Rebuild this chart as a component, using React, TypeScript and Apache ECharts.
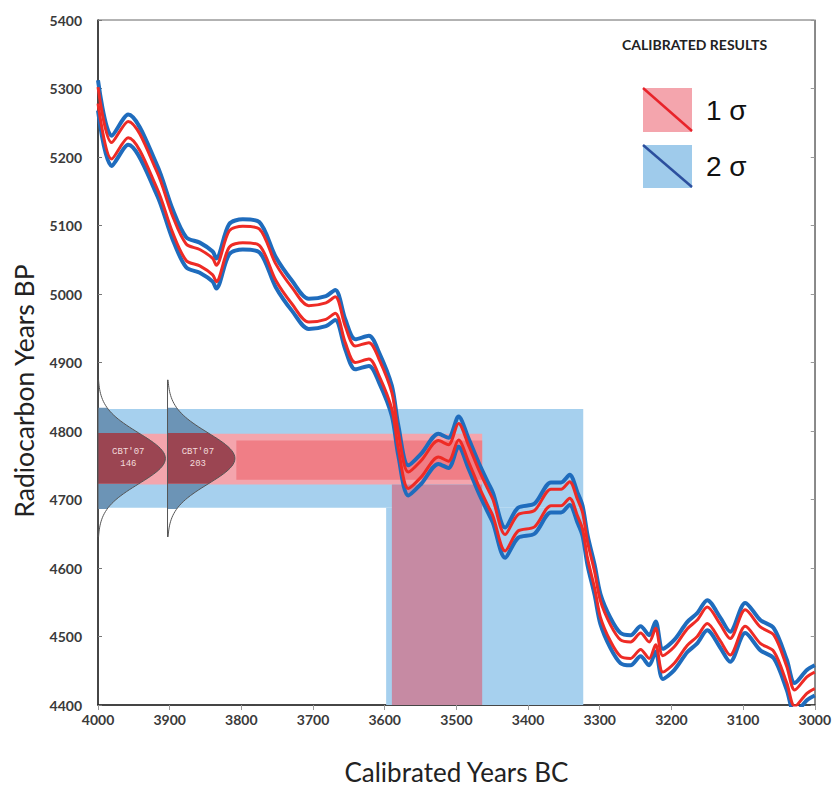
import React, { useEffect, useRef } from "react";
import * as echarts from "echarts";

// Calibration curve (centre, radiocarbon years BP) against calibrated years BC
const curveYears = [
  4000, 3981, 3958, 3918, 3896, 3877, 3858, 3840, 3835, 3817, 3798, 3775,
  3752, 3729, 3706, 3682, 3669, 3655, 3641, 3622, 3608, 3590, 3581, 3567,
  3549, 3525, 3511, 3497, 3483, 3469, 3456, 3449, 3432, 3414, 3391, 3368,
  3354, 3342, 3331, 3324, 3317, 3307, 3299, 3285, 3271, 3257, 3243, 3231,
  3222, 3212, 3196, 3178, 3164, 3150, 3132, 3118, 3097, 3076, 3057, 3039,
  3028, 3011, 3000,
];
const curveBP = [
  5290, 5209, 5240, 5167, 5102, 5061, 5053, 5040, 5030, 5080, 5087, 5083,
  5032, 4997, 4971, 4975, 4984, 4941, 4912, 4917, 4893, 4844, 4786, 4728,
  4745, 4774, 4768, 4799, 4767, 4732, 4703, 4688, 4637, 4666, 4672, 4703,
  4703, 4714, 4688, 4669, 4626, 4582, 4540, 4505, 4483, 4480, 4493, 4480,
  4500, 4460, 4473, 4499, 4512, 4531, 4506, 4485, 4527, 4502, 4490, 4444,
  4410, 4429, 4436,
];
// curve uncertainty envelopes (years)
const curveErrInner = 12;
const curveErrOuter = 22;

// calibrated ranges: [fromBC, toBC, lowBP, highBP]
const twoSigmaRanges = [
  [4000, 3323, 4688, 4832],
  [3598, 3323, 4400, 4688],
];
const oneSigmaBand = [[4000, 3464, 4722, 4796]];
const overlapBand = [[3807, 3464, 4729, 4786]];
const oneSigmaColumn = [[3590, 3464, 4400, 4722]];

// measured samples (radiocarbon ages)
const sampleNames = ["CBT'07", "CBT'07"];
const sampleIds = ["146", "203"];
const sampleBaseBC = [4000, 3903];
const sampleMeanBP = [4760, 4760];
const sampleSigma = [37, 37];
const samplePeak = [94, 94];

const xTickInterval = 100;
const yTickInterval = 100;

function rectSeries(data: number[][], fill: string, z: number) {
  return {
    type: "custom",
    z,
    silent: true,
    data,
    renderItem: (_p: any, api: any) => {
      const a = api.coord([api.value(0), api.value(3)]);
      const b = api.coord([api.value(1), api.value(2)]);
      return {
        type: "rect",
        shape: {
          x: Math.min(a[0], b[0]),
          y: Math.min(a[1], b[1]),
          width: Math.abs(b[0] - a[0]),
          height: Math.abs(b[1] - a[1]),
        },
        style: { fill },
      };
    },
  };
}

function lineSeries(offset: number, color: string, width: number, z: number) {
  return {
    type: "line",
    z,
    silent: true,
    showSymbol: false,
    symbol: "none",
    smooth: 0.3,
    clip: true,
    data: curveYears.map((y, i) => [y, curveBP[i] + offset]),
    lineStyle: { color, width },
  };
}

const plain = (v: number) => String(v);

export default function App() {
  const ref = useRef<HTMLDivElement>(null);
  useEffect(() => {
    if (!ref.current) return;
    const chart = echarts.init(ref.current, null, { renderer: "svg" });

    const sampleData = sampleBaseBC.map((_, i) => [i]);

    const option: any = {
      animation: false,
      backgroundColor: "#ffffff",
      grid: {
        left: 98,
        right: 16,
        top: 20,
        bottom: 101,
        show: true,
        borderColor: "#666",
        borderWidth: 1,
      },
      xAxis: {
        type: "value",
        min: 3000,
        max: 4000,
        interval: xTickInterval,
        inverse: true,
        name: "Calibrated Years BC",
        nameLocation: "middle",
        nameGap: 54,
        nameTextStyle: { fontFamily: "Lato", fontSize: 26, color: "#222" },
        axisLine: { lineStyle: { color: "#222", width: 1.5 } },
        axisTick: { show: true, length: 5, lineStyle: { color: "#999" } },
        axisLabel: {
          fontFamily: "Lato",
          fontWeight: "bold",
          fontSize: 14,
          color: "#3a3a3a",
          margin: 7,
          formatter: plain,
        },
        splitLine: { show: false },
      },
      yAxis: [
        {
          type: "value",
          min: 4400,
          max: 5400,
          interval: yTickInterval,
          axisLine: { show: true, lineStyle: { color: "#222", width: 1.5 } },
          axisTick: { show: true, inside: true, length: 4, lineStyle: { color: "#777" } },
          axisLabel: {
            fontFamily: "Lato",
            fontWeight: "bold",
            fontSize: 14,
            color: "#3a3a3a",
            margin: 16,
            formatter: plain,
          },
          splitLine: { show: false },
        },
        {
          type: "value",
          position: "right",
          min: 4400,
          max: 5400,
          interval: yTickInterval,
          axisLine: { show: true, lineStyle: { color: "#888", width: 1 } },
          axisTick: { show: true, inside: true, length: 4, lineStyle: { color: "#999" } },
          axisLabel: { show: false },
          splitLine: { show: false },
        },
      ],
      series: [
        rectSeries(twoSigmaRanges, "#a6d0ee", 1),
        rectSeries(oneSigmaBand, "#f4a5ad", 2),
        rectSeries(overlapBand, "#f07e86", 3),
        rectSeries(oneSigmaColumn, "#c68aa3", 3),
        {
          type: "custom",
          z: 4,
          silent: true,
          data: sampleData,
          renderItem: (params: any, api: any) => {
            const i = params.dataIndex;
            const base = sampleBaseBC[i];
            const mu = sampleMeanBP[i];
            const s = sampleSigma[i];
            const pk = samplePeak[i];
            const gx = (v: number) => base - pk * Math.exp(-0.5 * ((v - mu) / s) ** 2);
            const seg = (a: number, b: number) => {
              const pts: number[][] = [];
              const n = 30;
              for (let k = 0; k <= n; k++) {
                const v = a + ((b - a) * k) / n;
                pts.push(api.coord([gx(v), v]));
              }
              pts.push(api.coord([base, b]));
              pts.push(api.coord([base, a]));
              return pts;
            };
            const outline: number[][] = [];
            const n = 80;
            for (let k = 0; k <= n; k++) {
              const v = mu - 3.1 * s + (6.2 * s * k) / n;
              outline.push(api.coord([gx(v), v]));
            }
            const top = api.coord([base, mu + 3.1 * s]);
            const bot = api.coord([base, mu - 3.1 * s]);
            const c = api.coord([base - pk * 0.45, mu]);
            return {
              type: "group",
              children: [
                { type: "polygon", shape: { points: seg(mu - 2 * s, mu - s) }, style: { fill: "#6c94b6" } },
                { type: "polygon", shape: { points: seg(mu + s, mu + 2 * s) }, style: { fill: "#6c94b6" } },
                { type: "polygon", shape: { points: seg(mu - s, mu + s) }, style: { fill: "#9b4552" } },
                { type: "polyline", shape: { points: outline }, style: { stroke: "#555", lineWidth: 1, fill: null } },
                { type: "line", shape: { x1: top[0], y1: top[1], x2: bot[0], y2: bot[1] }, style: { stroke: "#555", lineWidth: 1 } },
                {
                  type: "text",
                  x: c[0],
                  y: c[1],
                  style: {
                    text: sampleNames[i] + "\n" + sampleIds[i],
                    fill: "#f3dcdc",
                    font: "9px 'Liberation Mono'",
                    align: "center",
                    verticalAlign: "middle",
                    lineHeight: 12,
                  },
                },
              ],
            };
          },
        },
        lineSeries(curveErrOuter, "#1f6cbd", 4, 5),
        lineSeries(-curveErrOuter, "#1f6cbd", 4, 5),
        lineSeries(curveErrInner, "#ee2b25", 3, 6),
        lineSeries(-curveErrInner, "#ee2b25", 3, 6),
      ],
      graphic: [
        {
          type: "text",
          x: 24,
          y: 391,
          rotation: Math.PI / 2,
          style: {
            text: "Radiocarbon Years BP",
            font: "26.5px Lato",
            fill: "#222",
            align: "center",
            verticalAlign: "middle",
          },
        },
        {
          type: "text",
          left: 622,
          top: 37,
          style: {
            text: "CALIBRATED RESULTS",
            font: "bold 14px Lato",
            fill: "#222",
          },
        },
        { type: "rect", shape: { x: 643, y: 88, width: 49, height: 44 }, style: { fill: "#f4a5ad" } },
        { type: "line", shape: { x1: 643, y1: 88, x2: 692, y2: 131 }, style: { stroke: "#e8232a", lineWidth: 2.5 } },
        { type: "text", x: 706, y: 110, style: { text: "1 σ", font: "28px 'Liberation Sans'", fill: "#111", verticalAlign: "middle" } },
        { type: "rect", shape: { x: 643, y: 145, width: 49, height: 43 }, style: { fill: "#9fcbeb" } },
        { type: "line", shape: { x1: 643, y1: 145, x2: 692, y2: 187 }, style: { stroke: "#2c4f9e", lineWidth: 2.5 } },
        { type: "text", x: 706, y: 166, style: { text: "2 σ", font: "28px 'Liberation Sans'", fill: "#111", verticalAlign: "middle" } },
      ],
    };
    chart.setOption(option);
    return () => chart.dispose();
  }, []);
  return (
    <div
      ref={ref}
      style={{ position: "fixed", left: 0, top: 0, width: 834, height: 806 }}
    />
  );
}
